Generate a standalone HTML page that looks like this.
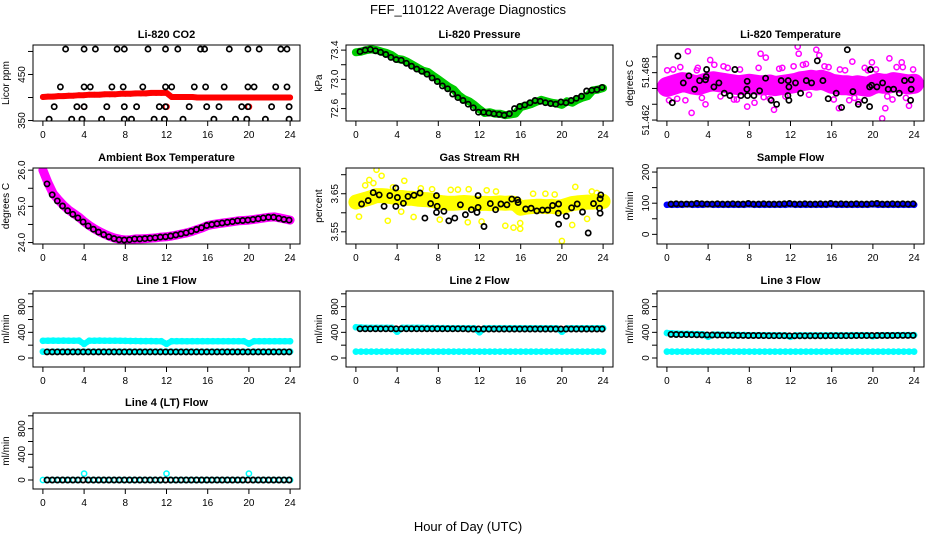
<!DOCTYPE html>
<html><head><meta charset="utf-8"><title>FEF_110122 Average Diagnostics</title>
<style>
html,body{margin:0;padding:0;background:#fff;}
svg{display:block;font-family:"Liberation Sans",Arial,sans-serif;}
</style></head>
<body>
<svg id="chart" width="936" height="540" viewBox="0 0 936 540" xmlns="http://www.w3.org/2000/svg">
<rect width="936" height="540" fill="#fff"/>
<text x="468" y="14" font-size="13" text-anchor="middle">FEF_110122  Average Diagnostics</text>
<text x="468" y="531" font-size="13" text-anchor="middle">Hour of Day (UTC)</text>
</svg>
<script>
// ---------- data ----------
const xTicks=[0,4,8,12,16,20,24];
// CO2
const co2Red=[401,402,402,403,403,404,404,405,405,406,406,406,407,407,407,408,408,408,409,409,409,410,410,410,410,401,401,401,401,401,400,400,400,400,400,400,400,400,400,400,400,400,400,400,400,400,400,400,400];
const co2BlackHours=[2.2,4.0,5.1,7.2,7.9,10.2,11.9,13.1,15.3,15.7,18.1,19.9,21.0,23.1,23.7, 1.7,4.0,4.6,6.7,7.8,9.7,11.9,12.5,14.7,15.8,17.6,19.9,20.5,22.6,23.7, 1.1,3.3,4.0,6.2,7.9,9.1,11.3,11.9,14.2,15.9,17.1,19.3,19.9,22.2,23.9, 0.6,2.8,3.8,5.7,7.9,8.6,10.8,11.8,13.6,16.6,18.7,19.8,21.6,23.9];
const co2BlackVals=[505,505,505,505,505,505,505,505,505,505,505,505,505,505,505, 423,423,423,423,423,423,423,423,423,423,423,423,423,423,423, 380,380,380,380,380,380,380,380,380,380,380,380,380,380,380, 353,353,353,353,353,353,353,353,353,353,353,353,353,353];
const co2RedDotsHours=[4.0,12.0,20.0];
const co2RedDotsVals=[380,380,380];
// Pressure
const pressGreen=[73.37,73.38,73.40,73.41,73.40,73.38,73.36,73.33,73.28,73.27,73.24,73.20,73.16,73.12,73.10,73.05,73.00,72.95,72.90,72.86,72.78,72.73,72.70,72.65,72.59,72.54,72.55,72.53,72.53,72.51,72.52,72.53,72.62,72.64,72.66,72.69,72.72,72.70,72.68,72.67,72.65,72.70,72.68,72.72,72.75,72.77,72.85,72.86,72.88];
const pressBlack=[73.38,73.40,73.41,73.39,73.37,73.34,73.30,73.27,73.26,73.22,73.18,73.14,73.11,73.07,73.02,72.97,72.91,72.87,72.80,72.75,72.71,72.66,72.61,72.55,72.55,72.54,72.53,72.52,72.51,72.53,72.60,72.63,72.65,72.68,72.71,72.70,72.68,72.67,72.66,72.69,72.68,72.71,72.74,72.77,72.84,72.85,72.86,72.89];
// Li-820 temperature
const tempMagenta=[51.4662,51.4664,51.4666,51.4668,51.4667,51.4665,51.4664,51.4666,51.4668,51.4669,51.4668,51.4667,51.4666,51.4665,51.4664,51.4665,51.4666,51.4665,51.4664,51.4664,51.4665,51.4663,51.4664,51.4665,51.4666,51.4667,51.4669,51.4670,51.4671,51.4670,51.4671,51.4669,51.4666,51.4665,51.4664,51.4664,51.4663,51.4664,51.4663,51.4662,51.4665,51.4667,51.4666,51.4666,51.4668,51.4667,51.4666,51.4665,51.4666];
const tempOutHours=[2.04,2.4,9.1,9.6,12.7,12.8,14.5,16.8,18.0,19.9,20.9,21.2,21.6,22.8,23.5,10.4,3.75,0.2,0.03,4.2,8.5,16.7,18.6,7.8,14.8,
  0.6,1.3,1.8,2.9,3.4,4.6,5.2,5.9,6.5,7.1,8.9,10.0,10.9,11.5,12.3,13.2,13.8,15.3,16.2,17.3,18.2,19.2,20.3,21.9,22.3,23.2,23.9,1.0,3.0,5.5,6.8,9.4,11.2,13.5,15.7,17.7,19.5,21.4,22.9];
const tempOutVals=[51.4707,51.4629,51.4704,51.4699,51.4713,51.4704,51.4709,51.4684,51.4694,51.4693,51.4622,51.4635,51.4698,51.4693,51.4638,51.4633,51.4640,51.4645,51.4683,51.4696,51.4642,51.4635,51.4643,51.4637,51.4702,
  51.4684,51.4687,51.4645,51.4683,51.4648,51.4690,51.4650,51.4686,51.4646,51.4684,51.4686,51.4647,51.4685,51.4650,51.4688,51.4690,51.4652,51.4688,51.4646,51.4683,51.4648,51.4686,51.4684,51.4646,51.4687,51.4648,51.4684,51.4647,51.4686,51.4688,51.4646,51.4649,51.4686,51.4691,51.4687,51.4645,51.4683,51.4650,51.4687];
const tempBlackHours=[0.52,1.07,1.59,2.14,2.69,3.17,3.75,3.85,3.82,4.56,5.05,5.57,6.12,6.6,7.18,7.8,7.77,7.83,8.45,9.0,9.58,10.13,10.65,11.1,11.78,11.75,11.84,11.84,12.49,12.98,13.53,14.05,14.6,15.15,15.66,16.44,16.96,17.51,18.06,18.58,19.19,19.68,19.68,19.77,19.87,20.39,20.94,21.49,22.01,22.56,23.07,23.66,23.72,23.72];
const tempBlackVals=[51.4642,51.4701,51.4667,51.4676,51.4659,51.4670,51.4671,51.4684,51.4675,51.4662,51.4667,51.4654,51.4651,51.4684,51.4651,51.4669,51.4659,51.4651,51.4651,51.4657,51.4673,51.4645,51.4640,51.4670,51.4670,51.4651,51.4645,51.4662,51.4667,51.4654,51.4670,51.4667,51.4695,51.4670,51.4647,51.4654,51.4636,51.4709,51.4656,51.4640,51.4645,51.4637,51.4662,51.4684,51.4664,51.4662,51.4667,51.4659,51.4659,51.4654,51.4670,51.4645,51.4671,51.4659];
// Ambient box temperature
const ambMagenta=[26.0,25.65,25.35,25.18,25.03,24.9,24.8,24.7,24.58,24.47,24.38,24.3,24.23,24.17,24.12,24.09,24.07,24.08,24.1,24.1,24.11,24.12,24.13,24.15,24.16,24.18,24.21,24.24,24.27,24.31,24.36,24.41,24.47,24.5,24.52,24.54,24.56,24.58,24.6,24.61,24.62,24.64,24.66,24.68,24.7,24.71,24.68,24.65,24.62];
const ambBlack=[25.62,25.32,25.15,25.01,24.88,24.78,24.68,24.57,24.46,24.37,24.29,24.22,24.16,24.11,24.08,24.07,24.08,24.1,24.1,24.11,24.12,24.13,24.15,24.16,24.18,24.21,24.24,24.27,24.31,24.36,24.41,24.47,24.5,24.52,24.54,24.56,24.58,24.6,24.61,24.62,24.64,24.66,24.68,24.7,24.7,24.67,24.64,24.62];
// Gas stream RH
const rhYellow=[3.628,3.632,3.636,3.640,3.645,3.645,3.644,3.642,3.640,3.640,3.638,3.638,3.636,3.635,3.634,3.632,3.628,3.626,3.625,3.625,3.626,3.627,3.626,3.625,3.624,3.625,3.624,3.625,3.626,3.625,3.626,3.624,3.612,3.615,3.616,3.617,3.617,3.616,3.617,3.615,3.616,3.620,3.624,3.626,3.627,3.628,3.628,3.630,3.630];
const rhOutHours=[0.3,2.0,3.1,4.4,4.7,5.6,8.15,10.86,10.95,12.2,14.5,15.3,15.95,15.95,20.0,21.0,21.3,22.45,2.5,1.3,0.9,1.7,3.6,6.3,7.4,9.2,9.9,12.7,13.6,17.2,18.4,19.3,22.9,23.4];
const rhOutVals=[3.590,3.713,3.579,3.603,3.684,3.589,3.582,3.575,3.662,3.577,3.566,3.561,3.558,3.573,3.526,3.568,3.668,3.584,3.697,3.686,3.672,3.678,3.667,3.664,3.662,3.660,3.661,3.659,3.656,3.650,3.650,3.648,3.656,3.652];
const rhBlackHours=[0.55,1.19,1.68,2.26,2.74,3.29,3.87,3.87,4.03,4.61,5.06,5.64,6.22,6.70,7.25,7.83,7.83,7.89,8.54,9.02,9.60,10.15,10.63,11.21,11.76,11.86,11.86,12.44,13.05,13.56,14.08,14.66,15.14,15.69,15.75,16.49,17.01,17.56,18.11,18.62,19.10,19.65,19.68,19.68,20.43,20.94,21.49,22.00,22.55,23.07,23.65,23.71,23.71,23.78];
const rhBlackVals=[3.623,3.632,3.653,3.647,3.617,3.645,3.665,3.617,3.640,3.625,3.643,3.646,3.652,3.586,3.624,3.645,3.601,3.617,3.604,3.579,3.586,3.621,3.595,3.608,3.601,3.614,3.645,3.564,3.624,3.608,3.623,3.621,3.636,3.634,3.627,3.610,3.612,3.605,3.607,3.607,3.619,3.599,3.623,3.570,3.591,3.613,3.623,3.602,3.547,3.624,3.612,3.637,3.599,3.647];
// Sample flow
const sampleBlue=[95,95,95,95,96,95,95,95,96,95,95,95,95,95,95,95,96,95,95,95,95,95,95,95,96,95,95,95,95,95,95,95,96,95,95,95,95,95,95,95,96,95,95,95,95,95,95,95,95];
const sampleBlack=[97,98,97,97,97,99,98,97,97,98,97,97,98,97,97,99,97,97,98,97,97,97,98,99,97,97,98,97,97,98,97,99,97,98,97,97,98,97,97,98,99,97,97,98,97,98,97,98];
// Line flows
const line1CyanHigh=[268,270,272,270,271,270,270,271,220,270,270,271,270,270,269,268,266,265,265,264,263,263,262,262,220,262,262,262,261,262,262,262,262,262,262,262,262,262,262,262,225,262,262,262,262,262,262,262,262];
const line1CyanLow=[100,100,100,100,100,100,100,100,100,100,100,100,100,100,100,100,100,100,100,100,100,100,100,100,100,100,100,100,100,100,100,100,100,100,100,100,100,100,100,100,100,100,100,100,100,100,100,100,100];
const line1Black=[95,95,95,95,95,95,95,95,95,95,95,95,95,95,95,95,95,95,95,95,95,95,95,95,95,95,95,95,95,95,95,95,95,95,95,95,95,95,95,95,95,95,95,95,95,95,95,95];
const line2CyanHigh=[480,475,470,470,470,470,470,470,410,470,470,470,470,470,468,468,466,466,465,465,465,465,464,464,400,464,464,464,464,464,464,464,464,464,464,464,464,464,464,464,410,464,464,464,464,464,464,464,464];
const line2CyanLow=[100,100,100,100,100,100,100,100,100,100,100,100,100,100,100,100,100,100,100,100,100,100,100,100,100,100,100,100,100,100,100,100,100,100,100,100,100,100,100,100,100,100,100,100,100,100,100,100,100];
const line2Black=[455,455,455,455,455,455,455,455,455,455,455,455,455,455,455,455,455,455,455,455,455,452,452,452,452,452,452,452,452,452,452,452,452,452,452,452,452,452,452,452,452,452,452,452,452,452,452,452];
const line3CyanHigh=[390,385,380,378,376,374,372,370,330,365,365,362,360,360,358,358,356,356,355,355,354,354,353,352,330,352,352,352,352,352,352,352,352,352,352,352,355,355,355,355,340,355,355,356,356,357,357,357,357];
const line3CyanLow=[100,100,100,100,100,100,100,100,100,100,100,100,100,100,100,100,100,100,100,100,100,100,100,100,100,100,100,100,100,100,100,100,100,100,100,100,100,100,100,100,100,100,100,100,100,100,100,100,100];
const line3Black=[368,366,365,364,363,362,360,360,358,357,356,355,354,353,352,351,350,350,349,348,348,347,347,346,346,346,346,346,346,346,346,347,347,348,348,348,349,349,349,350,350,350,351,351,352,352,352,353];
const line4Cyan=[0,0,0,0,0,0,0,0,100,0,0,0,0,0,0,0,0,0,0,0,0,0,0,0,100,0,0,0,0,0,0,0,0,0,0,0,0,0,0,0,100,0,0,0,0,0,0,0,0];
const line4Black=[0,0,0,0,0,0,0,0,0,0,0,0,0,0,0,0,0,0,0,0,0,0,0,0,0,0,0,0,0,0,0,0,0,0,0,0,0,0,0,0,0,0,0,0,0,0,0,0];

// ---------- layout ----------
const NS='http://www.w3.org/2000/svg';
const svg=document.getElementById('chart');
const COLS=[33,346,657], ROWS=[45,168,291,413], PW=267, PH=76;
function mk(tag,attrs,parent){const e=document.createElementNS(NS,tag);for(const k in attrs)e.setAttribute(k,attrs[k]);(parent||svg).appendChild(e);return e;}
function halfHours(n){const a=[];for(let i=0;i<n;i++)a.push(i*0.5);return a;}
function blackHours(n){const a=[];for(let i=0;i<n;i++)a.push(0.4+i*0.5);return a;}

function makePanel(p){
  const left=COLS[p.col], top=ROWS[p.row];
  const g=mk('g',{});
  
  
  const xs=h=>left+9.9+h*10.3;
  const ys=v=>top+(p.ymax-v)/(p.ymax-p.ymin)*PH;
  const clip='clip-'+p.name;
  const cp=mk('clipPath',{id:clip},g); mk('rect',{x:left,y:top,width:PW,height:PH},cp);
  const data=mk('g',{'clip-path':'url(#'+clip+')'},g);
  
  
  p.series.forEach(s=>{
    const sg=mk('g',{},data);
    
    
    if(s.band){
      const pts=s.hours.map((h,i)=>xs(h).toFixed(1)+','+ys(s.vals[i]).toFixed(1)).join(' ');
      const pl=mk('polyline',{points:pts,fill:'none',stroke:s.color,'stroke-width':s.band,'stroke-linejoin':'round','stroke-linecap':'round'},sg);
      
      
    }
    if(s.dots!==false){
      s.hours.forEach((h,i)=>{
        const c=mk('circle',{cx:xs(h).toFixed(1),cy:ys(s.vals[i]).toFixed(1),r:s.r||2.6,fill:'none',stroke:s.dotColor||s.color,'stroke-width':s.sw||1.5},sg);
        
        
      });
    }
  });
  const box=mk('rect',{x:left,y:top,width:PW,height:PH,fill:'none',stroke:'#000','stroke-width':1},g);
  
  
  const bot=top+PH;
  mk('line',{x1:xs(0),x2:xs(24),y1:bot,y2:bot,stroke:'#000'},g);
  xTicks.forEach(t=>{
    mk('line',{x1:xs(t),x2:xs(t),y1:bot,y2:bot+5,stroke:'#000'},g);
    const tx=mk('text',{x:xs(t),y:bot+17,'font-size':10,'text-anchor':'middle'},g);
    tx.textContent=t;
    
    
  });
  mk('line',{x1:left,x2:left,y1:ys(p.ticks[0]),y2:ys(p.ticks[p.ticks.length-1]),stroke:'#000'},g);
  p.ticks.forEach(t=>{mk('line',{x1:left-5,x2:left,y1:ys(t),y2:ys(t),stroke:'#000'},g);});
  p.labels.forEach(t=>{
    const y=ys(t), x=left-8;
    const tx=mk('text',{x:x,y:y,'font-size':10,'text-anchor':'middle',transform:'rotate(-90 '+x+' '+y+')'},g);
    tx.textContent=t.toFixed(p.dec);
    
    
  });
  const ax=left-24, ay=top+PH/2;
  const yt=mk('text',{x:ax,y:ay,'font-size':10,'text-anchor':'middle',transform:'rotate(-90 '+ax+' '+ay+')'},g);
  yt.textContent=p.ylab;
  
  
  const tt=mk('text',{x:left+PW/2,y:top-7,'font-size':11,'font-weight':'bold','text-anchor':'middle'},g);
  tt.textContent=p.title;
  
  
}

const H49=halfHours(49), B48=blackHours(48);
const flowTicks=[0,200,400,600,800,1000], flowLabels=[0,400,800];
const panels=[
 {name:'co2',col:0,row:0,title:'Li-820 CO2',ylab:'Licor ppm',ymin:349,ymax:514,ticks:[350,400,450,500],labels:[350,450],dec:0,
  series:[{id:'red',hours:H49,vals:co2Red,color:'#ff0000',band:6,r:2.2},
          {id:'red-dots',hours:co2RedDotsHours,vals:co2RedDotsVals,color:'#ff0000'},
          {id:'black',hours:co2BlackHours,vals:co2BlackVals,color:'#000',sw:1.7}]},
 {name:'pressure',col:1,row:0,title:'Li-820 Pressure',ylab:'kPa',ymin:72.43,ymax:73.47,ticks:[72.6,72.8,73.0,73.2,73.4],labels:[72.6,73.0,73.4],dec:1,
  series:[{id:'green',hours:H49,vals:pressGreen,color:'#00cc00',band:8},
          {id:'black',hours:B48,vals:pressBlack,color:'#000',sw:1.7}]},
 {name:'li820-temp',col:2,row:0,title:'Li-820 Temperature',ylab:'degrees C',ymin:51.46188,ymax:51.4715,ticks:[51.462,51.464,51.466,51.468,51.470],labels:[51.462,51.468],dec:3,
  series:[{id:'magenta',hours:H49,vals:tempMagenta,color:'#ff00ff',band:20},
          {id:'magenta-scatter',hours:tempOutHours,vals:tempOutVals,color:'#ff00ff'},
          {id:'black',hours:tempBlackHours,vals:tempBlackVals,color:'#000',sw:1.7}]},
 {name:'ambient-temp',col:0,row:1,title:'Ambient Box Temperature',ylab:'degrees C',ymin:23.96,ymax:26.06,ticks:[24,24.5,25,25.5,26],labels:[24,25,26],dec:1,
  series:[{id:'magenta',hours:H49,vals:ambMagenta,color:'#ff00ff',band:9},
          {id:'black',hours:B48,vals:ambBlack,color:'#000',sw:1.7}]},
 {name:'rh',col:1,row:1,title:'Gas Stream RH',ylab:'percent',ymin:3.518,ymax:3.7176,ticks:[3.55,3.60,3.65,3.70],labels:[3.55,3.65],dec:2,
  series:[{id:'yellow',hours:H49,vals:rhYellow,color:'#ffff00',band:15},
          {id:'yellow-scatter',hours:rhOutHours,vals:rhOutVals,color:'#ffff00'},
          {id:'black',hours:rhBlackHours,vals:rhBlackVals,color:'#000',sw:1.7}]},
 {name:'sample-flow',col:2,row:1,title:'Sample Flow',ylab:'ml/min',ymin:-31,ymax:213,ticks:[0,50,100,150,200],labels:[0,100,200],dec:0,
  series:[{id:'blue',hours:H49,vals:sampleBlue,color:'#0000ff',band:6},
          {id:'black',hours:B48,vals:sampleBlack,color:'#000',sw:1.7}]},
 {name:'line1-flow',col:0,row:2,title:'Line 1 Flow',ylab:'ml/min',ymin:-140,ymax:1044,ticks:flowTicks,labels:flowLabels,dec:0,
  series:[{id:'cyan-high',hours:H49,vals:line1CyanHigh,color:'#00ffff',band:6},
          {id:'cyan-low',hours:H49,vals:line1CyanLow,color:'#00ffff',band:5},
          {id:'black',hours:B48,vals:line1Black,color:'#000',sw:1.7}]},
 {name:'line2-flow',col:1,row:2,title:'Line 2 Flow',ylab:'ml/min',ymin:-140,ymax:1044,ticks:flowTicks,labels:flowLabels,dec:0,
  series:[{id:'cyan-high',hours:H49,vals:line2CyanHigh,color:'#00ffff',band:6},
          {id:'cyan-low',hours:H49,vals:line2CyanLow,color:'#00ffff',band:5},
          {id:'black',hours:B48,vals:line2Black,color:'#000',sw:1.7}]},
 {name:'line3-flow',col:2,row:2,title:'Line 3 Flow',ylab:'ml/min',ymin:-140,ymax:1044,ticks:flowTicks,labels:flowLabels,dec:0,
  series:[{id:'cyan-high',hours:H49,vals:line3CyanHigh,color:'#00ffff',band:6},
          {id:'cyan-low',hours:H49,vals:line3CyanLow,color:'#00ffff',band:5},
          {id:'black',hours:B48,vals:line3Black,color:'#000',sw:1.7}]},
 {name:'line4-flow',col:0,row:3,title:'Line 4 (LT) Flow',ylab:'ml/min',ymin:-140,ymax:1044,ticks:flowTicks,labels:flowLabels,dec:0,
  series:[{id:'cyan',hours:H49,vals:line4Cyan,color:'#00ffff'},
          {id:'black',hours:B48,vals:line4Black,color:'#000',sw:1.7}]}
];
panels.forEach(makePanel);
</script>
</body></html>
